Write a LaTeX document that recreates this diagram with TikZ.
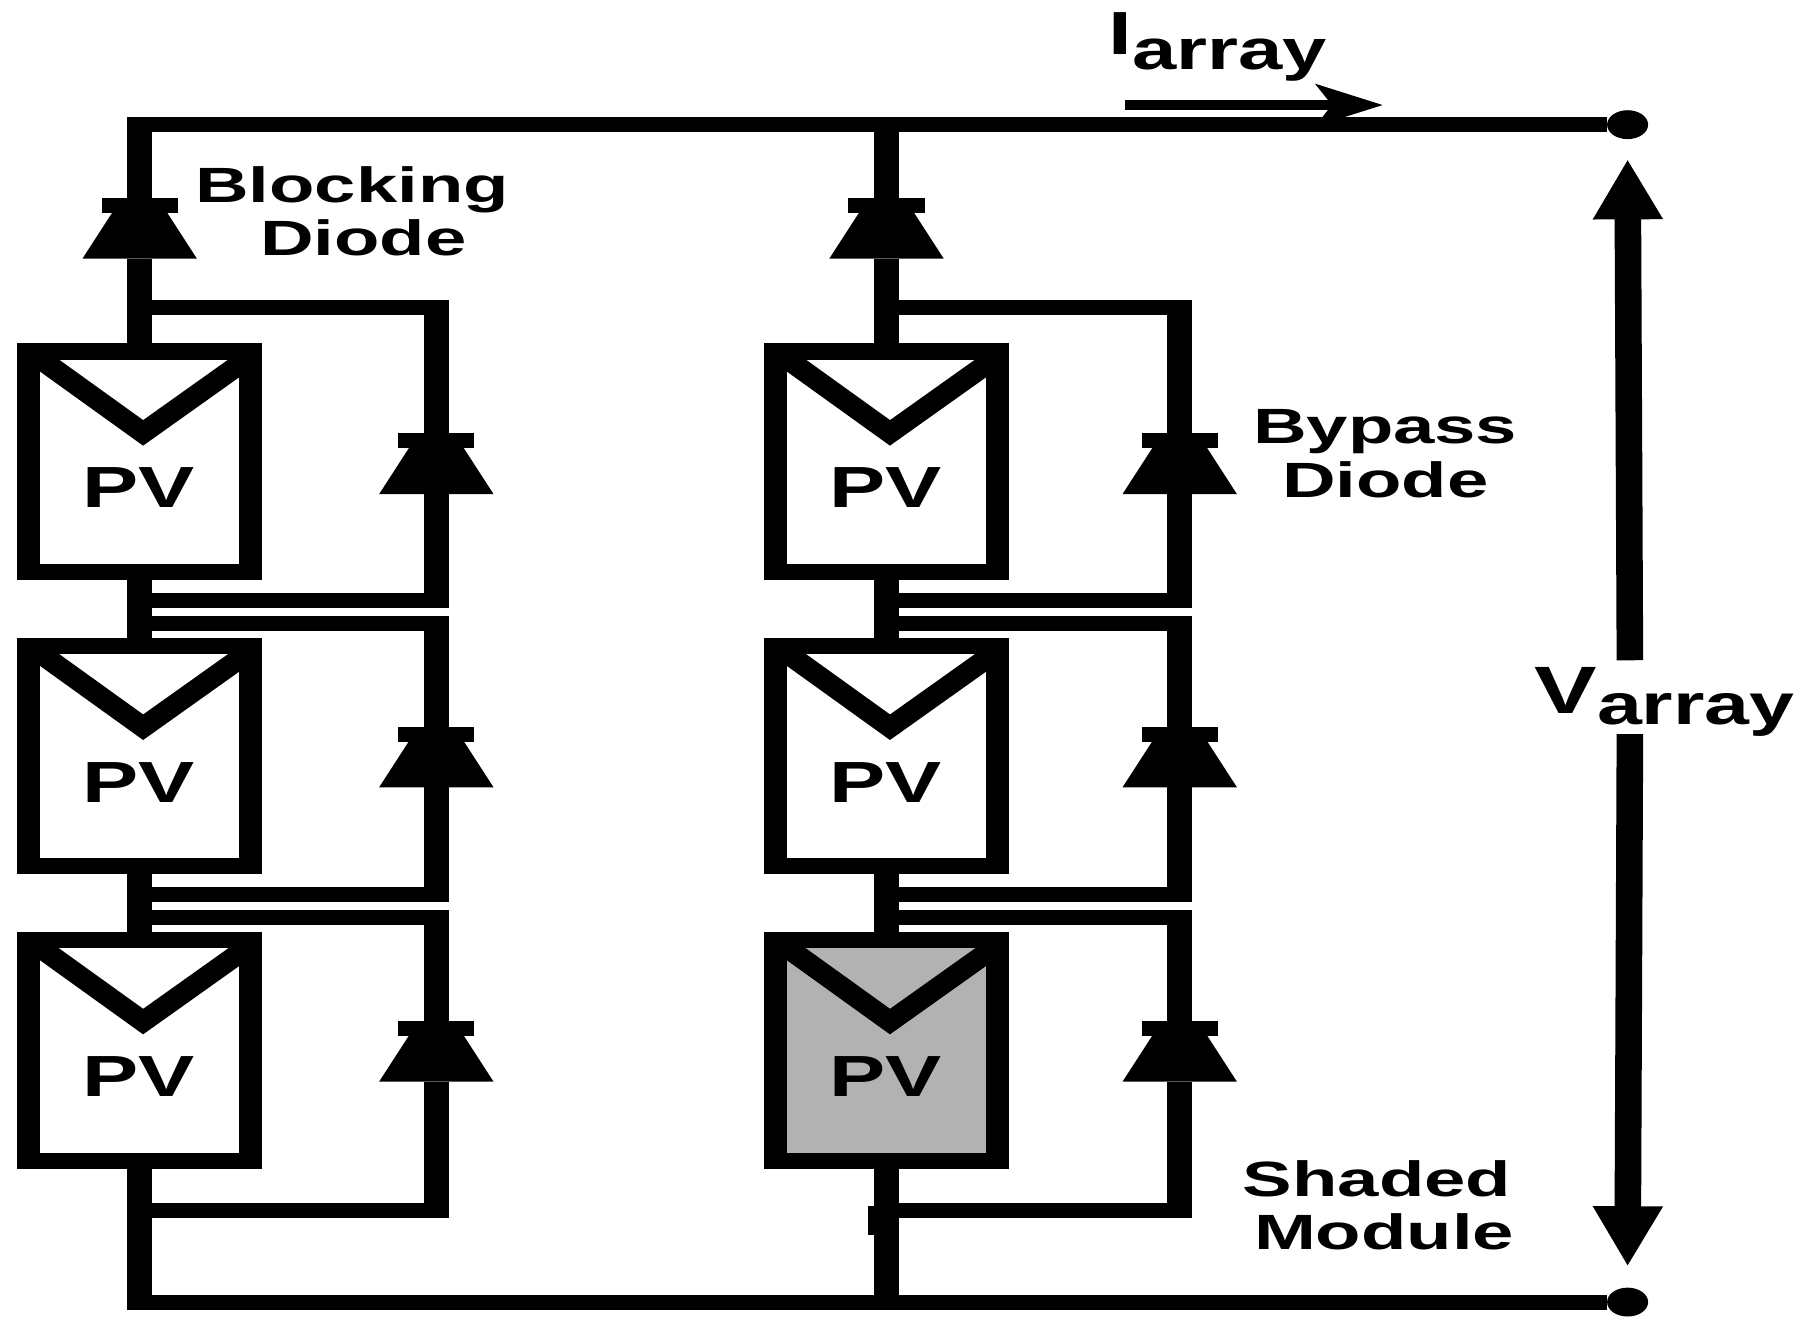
\documentclass[tikz,border=0pt]{standalone}
\usepackage{fontspec}
\setmainfont{Liberation Sans}
\usetikzlibrary{arrows.meta, shapes.geometric}
\definecolor{shadegray}{HTML}{B2B2B2}
\tikzset{
    hwire/.style={line width=0.13cm},
    vwire/.style={line width=0.22cm},
    pvouter/.style={rectangle, fill=black, minimum width=2.12cm, minimum height=2.05cm, inner sep=0pt, outer sep=0pt},
    pvinner/.style={rectangle, minimum width=1.72cm, minimum height=1.77cm, inner sep=0pt, outer sep=0pt},
    pvvee/.style={line width=0.18cm},
    pvtext/.style={anchor=base, font=\fontsize{14.3}{15}\selectfont\bfseries, xscale=1.45, transform shape},
    diodebar/.style={rectangle, fill=black, minimum width=0.66cm, minimum height=0.13cm, inner sep=0pt, outer sep=0pt},
    diodetri/.style={trapezium, fill=black, trapezium left angle=53, trapezium right angle=53, trapezium stretches=true, minimum width=0.99cm, minimum height=0.46cm, inner sep=1pt, outer sep=0pt},
    wireend/.style={circle, fill=black, minimum size=0.25cm, xscale=1.42, transform shape, inner sep=0pt, outer sep=0pt},
    caption/.style={align=center, font=\fontsize{12.2}{13.2}\selectfont\bfseries, xscale=1.5, transform shape},
    bigsym/.style={anchor=base west, font=\fontsize{14}{15}\selectfont\bfseries, xscale=1.4, transform shape},
    currentarrow/.style={line width=0.08cm, -{Stealth[length=0.58cm,width=0.36cm,inset=0.14cm]}},
    voltarrow/.style={line width=0.23cm, -{Triangle[length=0.52cm,width=0.57cm]}}
}
\newcommand{\pvmodule}[4]{
    \node[pvouter] (#1) at (#2,#3) {};
    \node[pvinner, fill=#4] (#1in) at (#2,#3) {};
    \draw[pvvee] (#2-93,#3-94) -- (#2+3,#3-25) -- (#2+93,#3-89);
    \node[pvtext] (#1pv) at (#2-1,#3+40) {PV};
}
\newcommand{\diode}[3]{
    \node[diodebar] (#1bar) at (#2,#3) {};
    \node[diodetri] (#1tri) at (#2,#3+23) {};
}
\newcommand{\bypassloop}[6]{
    \diode{#1}{#3}{#6}
    \coordinate (#1tl) at (#2,#4);
    \coordinate (#1tr) at (#3+11,#4);
    \coordinate (#1bl) at (#2,#5);
    \coordinate (#1br) at (#3+11,#5);
    \coordinate (#1vt) at (#3,#4-6);
    \coordinate (#1vb) at (#3,#5+6);
    \draw[hwire] (#1tl) -- (#1tr);
    \draw[hwire] (#1bl) -- (#1br);
    \draw[vwire] (#1vt) -- (#1bar);
    \draw[vwire] (#1tri) -- (#1vb);
}

\begin{document}
\begin{tikzpicture}[x=0.01cm, y=-0.01cm]
    \useasboundingbox (0,0) rectangle (1568,1155);

    %Modules
    \pvmodule{a1}{121}{400}{white}
    \pvmodule{a2}{121}{655}{white}
    \pvmodule{a3}{121}{910}{white}
    \pvmodule{b1}{768}{400}{white}
    \pvmodule{b2}{768}{655}{white}
    \pvmodule{b3}{768}{910}{shadegray}

    %Blocking diodes
    \diode{da}{121}{178}
    \diode{db}{768}{178}

    %Terminals
    \node[wireend] (tplus) at (1410,108) {};
    \node[wireend] (tminus) at (1410,1128) {};

    %Points on the rails
    \coordinate (topleft) at (110,108);
    \coordinate (atop) at (121,102);
    \coordinate (btop) at (768,108);
    \coordinate (botleft) at (110,1128);
    \coordinate (abot) at (121,1134);
    \coordinate (bbot) at (768,1128);

    %Rails
    \draw[hwire] (topleft) -- (tplus);
    \draw[hwire] (botleft) -- (tminus);

    %Strings
    \draw[vwire] (atop) -- (dabar);
    \draw[vwire] (datri) -- (a1.north);
    \draw[vwire] (a1.south) -- (a2.north);
    \draw[vwire] (a2.south) -- (a3.north);
    \draw[vwire] (a3.south) -- (abot);
    \draw[vwire] (btop) -- (dbbar);
    \draw[vwire] (dbtri) -- (b1.north);
    \draw[vwire] (b1.south) -- (b2.north);
    \draw[vwire] (b2.south) -- (b3.north);
    \draw[vwire] (b3.south) -- (bbot);

    %Bypass loops
    \bypassloop{pa1}{121}{378}{266}{520}{382}
    \bypassloop{pa2}{121}{378}{540}{775}{636}
    \bypassloop{pa3}{121}{378}{795}{1049}{891}
    \bypassloop{pb1}{768}{1022}{266}{520}{382}
    \bypassloop{pb2}{768}{1022}{540}{775}{636}
    \bypassloop{pb3}{768}{1022}{795}{1049}{891}

    %Small nub on the right string
    \coordinate (nubtop) at (755,1045);
    \coordinate (nubbot) at (755,1070);
    \draw[line width=0.06cm] (nubtop) -- (nubbot);

    %Current and voltage
    \coordinate (istart) at (975,91);
    \coordinate (iend) at (1198,91);
    \draw[currentarrow] (istart) -- (iend);
    \node[bigsym] (iarray) at (943,47) {\fontsize{15}{15}\selectfont I\raisebox{-0.13cm}{\fontsize{14}{15}\selectfont array}};
    \node[bigsym] (varray) at (1312,618) {\fontsize{16.5}{15}\selectfont V\raisebox{-0.1cm}{\fontsize{14.2}{15}\selectfont array}};
    \coordinate (vup) at (1412,572);
    \coordinate (vuptip) at (1410,138);
    \coordinate (vdown) at (1412,636);
    \coordinate (vdowntip) at (1410,1097);
    \draw[voltarrow] (vup) -- (vuptip);
    \draw[voltarrow] (vdown) -- (vdowntip);

    %Labels
    \node[caption] (blocking) at (305,183) {Blocking\\\hspace*{0.13cm}Diode};
    \node[caption] (bypass) at (1200,393) {Bypass\\Diode};
    \node[caption] (shaded) at (1193,1044) {Shaded\\\hspace*{0.08cm}Module};
\end{tikzpicture}
\end{document}
